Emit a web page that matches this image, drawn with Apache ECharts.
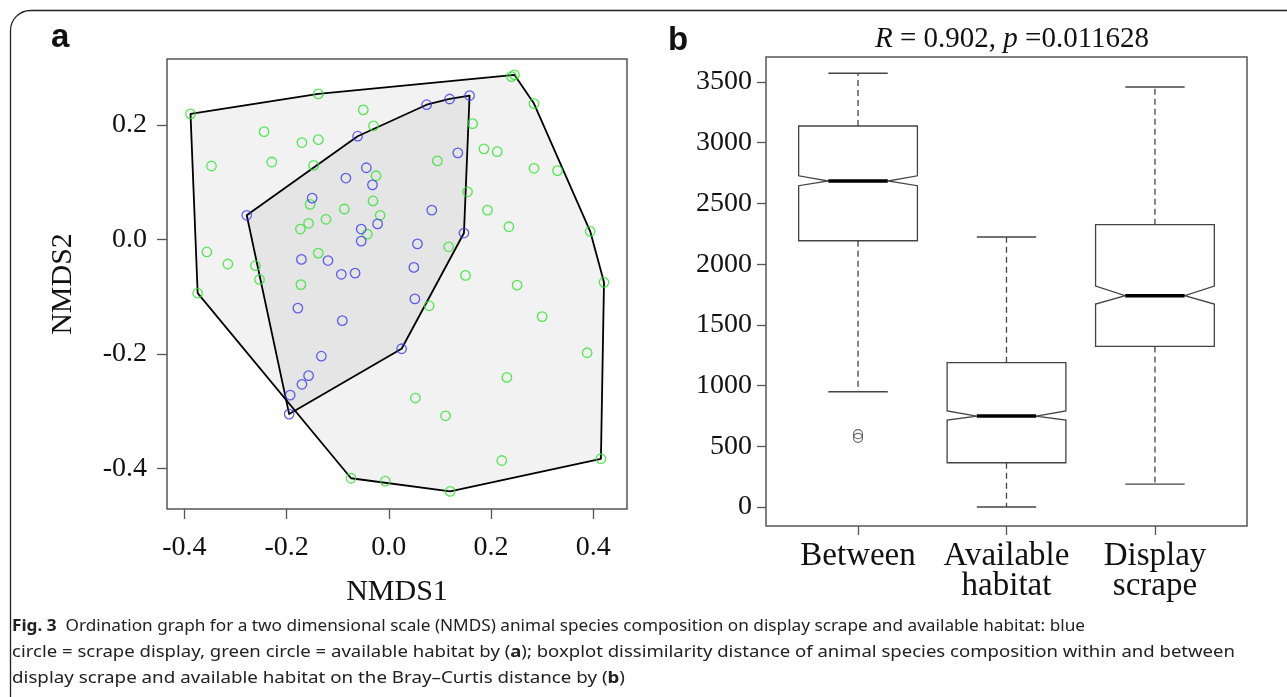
<!DOCTYPE html>
<html><head><meta charset="utf-8">
<script src="https://cdn.jsdelivr.net/npm/echarts@6/dist/echarts.min.js"></script>
<style>html,body{margin:0;padding:0;background:#fff}#c{width:1287px;height:697px}</style>
</head><body><div id="c"></div>
<script>
// ---- Panel a: NMDS scores ----
const greenX = [-0.388,-0.138,-0.050,-0.030,-0.244,-0.170,-0.138,-0.347,-0.229,-0.147,-0.025,-0.031,-0.154,-0.087,-0.017,-0.123,-0.157,-0.173,-0.042,-0.356,-0.138,-0.315,-0.261,-0.253,-0.374,-0.172,0.240,0.246,0.284,0.164,0.186,0.212,0.095,0.284,0.330,0.154,0.193,0.235,0.394,0.117,0.150,0.251,0.421,0.079,0.300,0.388,0.231,0.052,0.111,-0.074,-0.007,0.120,0.221,0.415];
const greenY = [0.219,0.254,0.226,0.198,0.188,0.169,0.174,0.128,0.135,0.129,0.111,0.067,0.061,0.053,0.042,0.035,0.028,0.018,0.009,-0.022,-0.024,-0.043,-0.046,-0.070,-0.094,-0.079,0.284,0.287,0.237,0.202,0.158,0.153,0.137,0.124,0.120,0.083,0.051,0.022,0.014,-0.013,-0.063,-0.080,-0.075,-0.116,-0.135,-0.198,-0.241,-0.277,-0.308,-0.417,-0.422,-0.440,-0.386,-0.383];
const blueX = [-0.061,-0.044,-0.084,-0.032,-0.150,-0.278,-0.022,-0.054,-0.054,0.074,0.119,0.158,0.135,0.084,0.147,0.056,-0.171,-0.119,-0.093,-0.066,-0.178,-0.091,-0.132,-0.157,-0.170,-0.193,-0.195,0.025,0.049,0.051];
const blueY = [0.180,0.125,0.107,0.095,0.072,0.042,0.027,0.018,-0.003,0.235,0.245,0.251,0.151,0.051,0.011,-0.008,-0.035,-0.037,-0.061,-0.059,-0.120,-0.142,-0.204,-0.238,-0.253,-0.272,-0.305,-0.191,-0.049,-0.104];
const nmds1Ticks = [-0.4,-0.2,0.0,0.2,0.4];
const nmds2Ticks = [-0.4,-0.2,0.0,0.2];

// ---- Panel b: dissimilarity boxplots ----
const boxCategories = ['Between','Available\nhabitat','Display\nscrape'];
const boxMin    = [950, 0, 189];
const boxQ1     = [2193, 365, 1323];
const notchLow  = [2646, 716, 1672];
const boxMedian = [2685, 749, 1740];
const notchHigh = [2728, 791, 1820];
const boxQ3     = [3138, 1189, 2325];
const boxMax    = [3572, 2224, 3459];
const outlierCat = [1, 1];
const outlierVal = [570, 600];
const distTicks = [0,500,1000,1500,2000,2500,3000,3500];

const captionLines = [
  ['Fig. 3', '  Ordination graph for a two dimensional scale (NMDS) animal species composition on display scrape and available habitat: blue'],
  ['', 'circle = scrape display, green circle = available habitat by (', 'a', '); boxplot dissimilarity distance of animal species composition within and between'],
  ['', 'display scrape and available habitat on the Bray\u2013Curtis distance by (', 'b', ')']
];

function convexHull(xs, ys) {
  const p = xs.map((x, i) => [x, ys[i]]).sort((a, b) => a[0] - b[0] || a[1] - b[1]);
  const cross = (o, a, b) => (a[0]-o[0])*(b[1]-o[1]) - (a[1]-o[1])*(b[0]-o[0]);
  const lower = [];
  for (const q of p) { while (lower.length >= 2 && cross(lower[lower.length-2], lower[lower.length-1], q) <= 0) lower.pop(); lower.push(q); }
  const upper = [];
  for (let i = p.length - 1; i >= 0; i--) { const q = p[i]; while (upper.length >= 2 && cross(upper[upper.length-2], upper[upper.length-1], q) <= 0) upper.pop(); upper.push(q); }
  upper.pop(); lower.pop();
  return lower.concat(upper);
}
const greenHull = convexHull(greenX, greenY);
const blueHull = convexHull(blueX, blueY);

function hullSeries(pts, fill) {
  return {
    type: 'custom', xAxisIndex: 0, yAxisIndex: 0, silent: true, z: 2, clip: false,
    data: [pts[0]],
    renderItem: (params, api) => ({
      type: 'polygon',
      shape: { points: pts.map(p => api.coord(p)) },
      style: { fill: fill, stroke: '#000', lineWidth: 1.8, lineJoin: 'round' }
    })
  };
}

const seg = (a, b) => ({ x1: a[0], y1: a[1], x2: b[0], y2: b[1] });

const serif = 'Liberation Serif';
const chart = echarts.init(document.getElementById('c'), null, { renderer: 'canvas' });

// caption width fitting (each line fitted to the width it has in the reference)
const mctx = document.createElement('canvas').getContext('2d');
const capFont = '"Noto Sans"';
const capSize = 16;
function measureLine(parts) {
  let w = 0;
  parts.forEach((t, k) => {
    const bold = (k === 0) || (k === 2);
    mctx.font = (bold ? 'bold ' : '') + capSize + 'px ' + capFont;
    w += mctx.measureText(t).width;
  });
  return w;
}
const capTargets = [1073, 1223, 613];
const capY = [626, 652, 678];
const captionGraphics = captionLines.map((parts, li) => {
  const text = parts.map((t, k) => {
    if (t === '') return '';
    const bold = (k === 0) || (k === 2);
    return bold ? '{b|' + t + '}' : '{n|' + t + '}';
  }).join('');
  const sx = capTargets[li] / measureLine(parts);
  return {
    type: 'text', x: 12, y: capY[li], scaleX: sx, silent: true,
    style: {
      text: text, align: 'left', verticalAlign: 'middle',
      rich: {
        b: { fontFamily: capFont, fontSize: capSize, fontWeight: 'bold', fill: '#222', color: '#222' },
        n: { fontFamily: capFont, fontSize: capSize, fill: '#222', color: '#222' }
      }
    }
  };
});

const option = {
  animation: false,
  backgroundColor: '#fff',
  grid: [
    { left: 167, top: 59, width: 460, height: 450, show: true, borderColor: '#555', borderWidth: 1.5, backgroundColor: 'transparent' },
    { left: 766, top: 57, width: 481, height: 469, show: true, borderColor: '#555', borderWidth: 1.5, backgroundColor: 'transparent' }
  ],
  xAxis: [
    {
      gridIndex: 0, type: 'value', min: -0.434, max: 0.466,
      axisLine: { show: false, onZero: false }, splitLine: { show: false },
      axisTick: { show: true, customValues: nmds1Ticks, length: 10, lineStyle: { color: '#555', width: 1.3 } },
      axisLabel: { customValues: nmds1Ticks, formatter: v => v.toFixed(1), margin: 25, fontFamily: serif, fontSize: 28, color: '#111' },
      name: 'NMDS1', nameLocation: 'middle', nameGap: 68,
      nameTextStyle: { fontFamily: serif, fontSize: 30, color: '#111' }
    },
    {
      gridIndex: 1, type: 'value', min: 0.38, max: 3.62,
      axisLine: { show: false, onZero: false }, splitLine: { show: false },
      axisTick: { show: true, customValues: [1, 2, 3], length: 9, lineStyle: { color: '#555', width: 1.3 } },
      axisLabel: { customValues: [1, 2, 3], formatter: v => boxCategories[Math.round(v) - 1], margin: 15, fontFamily: serif, fontSize: 33, lineHeight: 30, color: '#111' }
    }
  ],
  yAxis: [
    {
      gridIndex: 0, type: 'value', min: -0.4707, max: 0.3148,
      axisLine: { show: false, onZero: false }, splitLine: { show: false },
      axisTick: { show: true, customValues: nmds2Ticks, length: 10, lineStyle: { color: '#555', width: 1.3 } },
      axisLabel: { customValues: nmds2Ticks, formatter: v => v.toFixed(1), margin: 20, fontFamily: serif, fontSize: 28, color: '#111' },
      name: 'NMDS2', nameLocation: 'middle', nameGap: 89, nameRotate: 90,
      nameTextStyle: { fontFamily: serif, fontSize: 30, color: '#111' }
    },
    {
      gridIndex: 1, type: 'value', min: -156, max: 3706,
      axisLine: { show: false, onZero: false }, splitLine: { show: false },
      axisTick: { show: true, customValues: distTicks, length: 9, lineStyle: { color: '#555', width: 1.3 } },
      axisLabel: { customValues: distTicks, formatter: v => String(v), margin: 14, fontFamily: serif, fontSize: 28, color: '#111' }
    }
  ],
  series: [
    hullSeries(greenHull, 'rgba(0,0,0,0.052)'),
    hullSeries(blueHull, 'rgba(0,0,0,0.052)'),
    {
      type: 'scatter', xAxisIndex: 0, yAxisIndex: 0, silent: true, z: 5,
      data: greenX.map((x, i) => [x, greenY[i]]),
      symbol: 'circle', symbolSize: 9.5,
      itemStyle: { color: 'rgba(0,0,0,0)', borderColor: '#2ee22e', borderWidth: 1.3 }
    },
    {
      type: 'scatter', xAxisIndex: 0, yAxisIndex: 0, silent: true, z: 5,
      data: blueX.map((x, i) => [x, blueY[i]]),
      symbol: 'circle', symbolSize: 9.5,
      itemStyle: { color: 'rgba(0,0,0,0)', borderColor: '#3a3aea', borderWidth: 1.3 }
    },
    {
      type: 'custom', xAxisIndex: 1, yAxisIndex: 1, silent: true, z: 3,
      data: boxCategories.map((c, i) => [i + 1, boxMin[i], boxQ1[i], notchLow[i], boxMedian[i], notchHigh[i], boxQ3[i], boxMax[i]]),
      encode: { x: 0, y: [1, 2, 3, 4, 5, 6, 7] },
      renderItem: (params, api) => {
        const x = api.value(0);
        const c = (xx, v) => api.coord([xx, v]);
        const w = 0.4, s = 0.2;
        const mn = api.value(1), q1 = api.value(2), nl = api.value(3), md = api.value(4), nh = api.value(5), q3 = api.value(6), mx = api.value(7);
        const dash = { stroke: '#444', lineWidth: 1.3, lineDash: [6, 4] };
        const solid = { stroke: '#444', lineWidth: 1.4 };
        return {
          type: 'group', children: [
            { type: 'line', shape: seg(c(x, q3), c(x, mx)), style: dash },
            { type: 'line', shape: seg(c(x, q1), c(x, mn)), style: dash },
            { type: 'line', shape: seg(c(x - s, mx), c(x + s, mx)), style: solid },
            { type: 'line', shape: seg(c(x - s, mn), c(x + s, mn)), style: solid },
            { type: 'polygon', shape: { points: [c(x - w, q1), c(x - w, nl), c(x - w / 2, md), c(x - w, nh), c(x - w, q3), c(x + w, q3), c(x + w, nh), c(x + w / 2, md), c(x + w, nl), c(x + w, q1)] },
              style: { fill: '#fff', stroke: '#444', lineWidth: 1.3 } },
            { type: 'line', shape: seg(c(x - w / 2, md), c(x + w / 2, md)), style: { stroke: '#000', lineWidth: 3.5 } }
          ]
        };
      }
    },
    {
      type: 'scatter', xAxisIndex: 1, yAxisIndex: 1, silent: true, z: 5,
      data: outlierCat.map((x, i) => [x, outlierVal[i]]),
      symbol: 'circle', symbolSize: 9,
      itemStyle: { color: 'rgba(0,0,0,0)', borderColor: '#444', borderWidth: 1.2 }
    }
  ],
  graphic: [
    { type: 'rect', silent: true, shape: { x: 10.5, y: 10.5, width: 1300, height: 720, r: 20 }, style: { fill: 'none', stroke: '#222', lineWidth: 1.3 } },
    { type: 'text', x: 51, y: 38, silent: true, style: { text: 'a', fontFamily: 'Liberation Sans', fontWeight: 'bold', fontSize: 33, fill: '#111', align: 'left', verticalAlign: 'middle' } },
    { type: 'text', x: 668, y: 41, silent: true, style: { text: 'b', fontFamily: 'Liberation Sans', fontWeight: 'bold', fontSize: 33, fill: '#111', align: 'left', verticalAlign: 'middle' } },
    { type: 'text', x: 1012, y: 39, silent: true, style: {
        text: '{i|R}{n| = 0.902, }{i|p}{n| =0.011628}', align: 'center', verticalAlign: 'middle',
        rich: {
          i: { fontFamily: serif, fontSize: 29, fontStyle: 'italic', fill: '#111', color: '#111' },
          n: { fontFamily: serif, fontSize: 29, fill: '#111', color: '#111' }
        }
      } }
  ].concat(captionGraphics)
};
chart.setOption(option);
</script>
</body></html>
